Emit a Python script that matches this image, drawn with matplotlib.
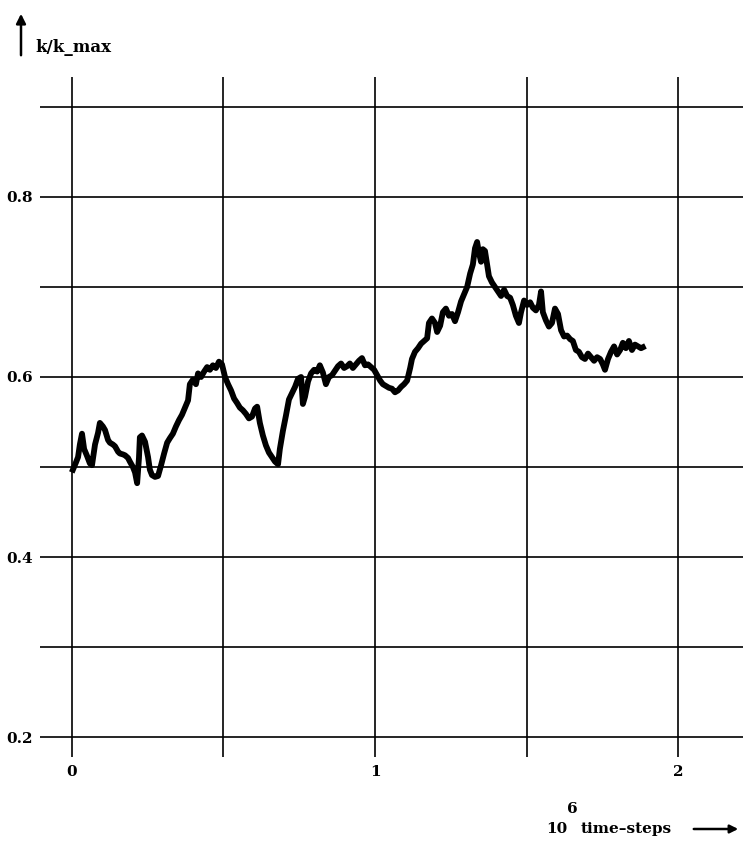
import numpy as np
import matplotlib
matplotlib.use("Agg")
import matplotlib.pyplot as plt
from matplotlib.patches import FancyArrowPatch

# time in units of 10^6 steps, normalised conductivity k/k_max
t_steps = [
    0.003, 0.013, 0.020, 0.026, 0.033, 0.040, 0.050, 0.059, 0.066, 0.076,
    0.086, 0.092, 0.102, 0.109, 0.119, 0.125, 0.135, 0.142, 0.152, 0.158,
    0.168, 0.175, 0.185, 0.191, 0.201, 0.208, 0.215, 0.221, 0.224, 0.231,
    0.241, 0.251, 0.257, 0.264, 0.274, 0.284, 0.294, 0.304, 0.314, 0.323,
    0.333, 0.343, 0.353, 0.363, 0.373, 0.383, 0.389, 0.399, 0.409, 0.416,
    0.426, 0.436, 0.446, 0.455, 0.465, 0.475, 0.485, 0.495, 0.505, 0.515,
    0.525, 0.535, 0.545, 0.554, 0.564, 0.574, 0.584, 0.594, 0.604, 0.611,
    0.620, 0.630, 0.640, 0.650, 0.660, 0.670, 0.680, 0.686, 0.696, 0.706,
    0.716, 0.726, 0.736, 0.746, 0.756, 0.762, 0.769, 0.779, 0.789, 0.799,
    0.809, 0.818, 0.828, 0.838, 0.848, 0.858, 0.868, 0.878, 0.888, 0.898,
    0.908, 0.917, 0.927, 0.937, 0.947, 0.957, 0.967, 0.977, 0.987, 0.997,
    1.007, 1.017, 1.026, 1.036, 1.046, 1.056, 1.066, 1.076, 1.086, 1.096,
    1.106, 1.116, 1.122, 1.132, 1.142, 1.152, 1.162, 1.172, 1.178, 1.188,
    1.198, 1.205, 1.215, 1.224, 1.234, 1.244, 1.254, 1.264, 1.274, 1.284,
    1.294, 1.304, 1.314, 1.323, 1.330, 1.337, 1.343, 1.350, 1.356, 1.363,
    1.370, 1.376, 1.386, 1.396, 1.406, 1.416, 1.426, 1.436, 1.446, 1.455,
    1.465, 1.475, 1.482, 1.492, 1.502, 1.512, 1.521, 1.531, 1.541, 1.548,
    1.554, 1.564, 1.574, 1.584, 1.594, 1.604, 1.614, 1.624, 1.634, 1.644,
    1.653, 1.663, 1.673, 1.683, 1.693, 1.703, 1.713, 1.723, 1.733, 1.743,
    1.752, 1.759, 1.769, 1.779, 1.789, 1.799, 1.809, 1.818, 1.828, 1.838,
    1.848, 1.858, 1.868, 1.878, 1.884,
]
k_ratio = [
    0.497, 0.505, 0.511, 0.525, 0.537, 0.520, 0.512, 0.504, 0.502, 0.525,
    0.538, 0.549, 0.545, 0.541, 0.530, 0.527, 0.525, 0.523, 0.517, 0.515,
    0.514, 0.513, 0.510, 0.506, 0.500, 0.494, 0.482, 0.510, 0.533, 0.535,
    0.528, 0.511, 0.497, 0.491, 0.489, 0.490, 0.502, 0.515, 0.527, 0.532,
    0.537, 0.545, 0.552, 0.558, 0.566, 0.574, 0.592, 0.597, 0.592, 0.604,
    0.600, 0.606, 0.611, 0.608, 0.613, 0.610, 0.617, 0.614, 0.600, 0.592,
    0.585, 0.576, 0.571, 0.566, 0.563, 0.559, 0.554, 0.556, 0.565, 0.567,
    0.549, 0.535, 0.524, 0.516, 0.511, 0.506, 0.503, 0.520, 0.540, 0.557,
    0.575, 0.582, 0.589, 0.598, 0.600, 0.570, 0.578, 0.595, 0.604, 0.608,
    0.606, 0.613, 0.605, 0.592, 0.600, 0.602, 0.607, 0.612, 0.615, 0.610,
    0.612, 0.615, 0.610, 0.614, 0.618, 0.621, 0.613, 0.614, 0.611, 0.608,
    0.602, 0.596, 0.592, 0.590, 0.588, 0.587, 0.583, 0.585, 0.589, 0.592,
    0.596, 0.610, 0.620, 0.628, 0.632, 0.637, 0.640, 0.643, 0.660, 0.665,
    0.660, 0.650, 0.657, 0.672, 0.676, 0.668, 0.670, 0.662, 0.672, 0.684,
    0.692, 0.700, 0.715, 0.725, 0.743, 0.750, 0.738, 0.728, 0.742, 0.740,
    0.725, 0.712, 0.705, 0.700, 0.695, 0.690, 0.697, 0.690, 0.688, 0.680,
    0.668, 0.660, 0.672, 0.685, 0.680, 0.683, 0.677, 0.674, 0.680, 0.695,
    0.672, 0.663, 0.656, 0.660, 0.676, 0.670, 0.652, 0.645, 0.646, 0.642,
    0.640, 0.630, 0.628, 0.622, 0.620, 0.626, 0.622, 0.618, 0.622, 0.620,
    0.614, 0.608, 0.620, 0.628, 0.634, 0.625, 0.630, 0.638, 0.632, 0.640,
    0.630, 0.636, 0.634, 0.632, 0.633,
]

x_grid = [0.0, 0.5, 1.0, 1.5, 2.0]
y_grid = [0.2, 0.3, 0.4, 0.5, 0.6, 0.7, 0.8, 0.9]
x_ticks = [0, 1, 2]
x_labels = ["0", "1", "2"]
y_ticks = [0.2, 0.4, 0.6, 0.8]
y_labels = ["0.2", "0.4", "0.6", "0.8"]

W, H = 743, 842
FONT = dict(family="DejaVu Serif", weight="bold")


def fx(px):
    return px / W


def fy(py):
    return 1 - py / H


fig = plt.figure(figsize=(W / 100, H / 100), dpi=100)
ax = fig.add_axes([fx(40), fy(757), fx(743) - fx(40), fy(77) - fy(757)])
ax.set_xlim(-0.1056, 2.2145)
ax.set_ylim(0.1778, 0.9333)
for s in ax.spines.values():
    s.set_visible(False)

for xv in x_grid:
    ax.axvline(xv, color="black", lw=1.2, zorder=1)
for yv in y_grid:
    ax.axhline(yv, color="black", lw=1.2, zorder=1)

ax.plot(t_steps, k_ratio, color="black", lw=4.2, solid_joinstyle="round", zorder=3)

ax.set_xticks(x_ticks)
ax.set_xticklabels(x_labels, fontsize=11, **FONT)
ax.set_yticks(y_ticks)
ax.set_yticklabels(y_labels, fontsize=11, **FONT)
ax.tick_params(axis="x", length=0, pad=6)
ax.tick_params(axis="y", length=0, pad=5)

# y axis caption with upward arrow
fig.patches.append(FancyArrowPatch((fx(21), fy(58)), (fx(21), fy(11)),
                                   transform=fig.transFigure, arrowstyle="-|>",
                                   mutation_scale=14, lw=1.8, color="black"))
fig.text(fx(35), fy(47), "k/k_max", fontsize=12, va="center", ha="left", **FONT)

# x axis caption with rightward arrow
fig.text(fx(546), fy(829), "10", fontsize=11, va="center", ha="left", **FONT)
fig.text(fx(567), fy(809), "6", fontsize=11, va="center", ha="left", **FONT)
fig.text(fx(581), fy(829), "time\u2013steps", fontsize=11, va="center", ha="left", **FONT)
fig.patches.append(FancyArrowPatch((fx(691), fy(829)), (fx(741), fy(829)),
                                   transform=fig.transFigure, arrowstyle="-|>",
                                   mutation_scale=12, lw=1.8, color="black"))

fig.savefig("out.png", dpi=100)
